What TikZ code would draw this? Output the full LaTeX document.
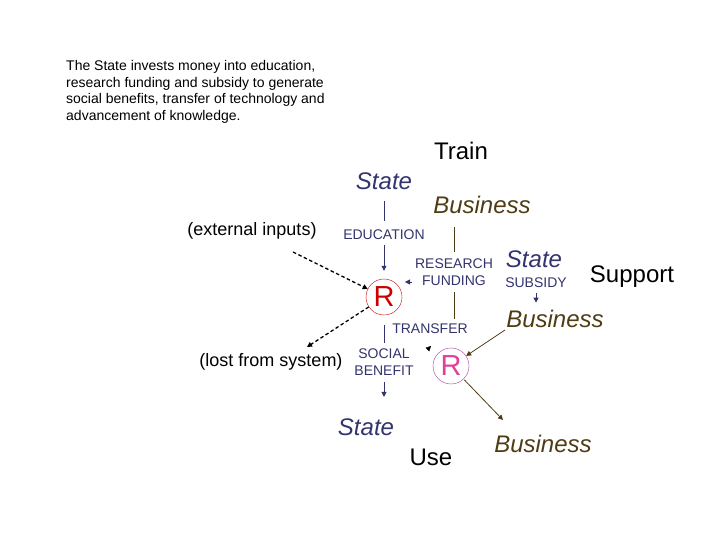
\documentclass[tikz,border=0pt]{standalone}
\usepackage{fontspec}
\setmainfont{Liberation Sans}
\usepackage{xcolor}
\usepackage{tikz}
\usetikzlibrary{arrows.meta}

\definecolor{stateblue}{RGB}{51,51,110}
\definecolor{busbrown}{RGB}{80,60,20}
\definecolor{rred}{RGB}{204,0,0}
\definecolor{rpink}{RGB}{224,64,154}
\definecolor{rpurple}{RGB}{170,60,150}

\tikzset{
    big/.style={font=\fontsize{24}{28}\selectfont},
    statetxt/.style={font=\fontsize{24}{28}\selectfont\itshape, text=stateblue},
    bustxt/.style={font=\fontsize{24}{28}\selectfont\itshape, text=busbrown},
    flowtxt/.style={font=\fontsize{14}{17}\selectfont, text=stateblue, align=center},
    paren/.style={font=\fontsize{18}{21}\selectfont},
    ltip/.style={-{Triangle[length=5pt,width=5pt]}},
    extflow/.style={line width=1.3pt, dash pattern=on 3.5pt off 2.5pt, ltip},
}

\begin{document}
\begin{tikzpicture}[x=1pt, y=-1pt]
    \useasboundingbox (0,0) rectangle (720,540);

    % Intro text
    \node[anchor=north west, align=left, inner sep=0pt,
          font=\fontsize{14}{16.7}\selectfont] (intro) at (66,60)
        {The State invests money into education,\\research funding and subsidy to generate\\social benefits, transfer of technology and\\advancement of knowledge.};

    % Top labels
    \node[big] (train) at (461,151) {Train};
    \node[statetxt] (state1) at (384,181) {State};
    \node[bustxt] (bus1) at (482,205) {Business};
    \node[paren] (extin) at (252,231) {(external inputs)};
    \node[flowtxt] (edu) at (384,235) {EDUCATION};

    % Research side
    \node[flowtxt] (resfund) at (454,272) {RESEARCH\\FUNDING};
    \node[statetxt] (state2) at (534,259) {State};
    \node[flowtxt] (subsidy) at (536,283) {SUBSIDY};
    \node[big] (support) at (632,277) {Support};
    \node[bustxt] (bus2) at (555,319) {Business};

    % Reservoirs
    \node[circle, draw=rred, thin, minimum size=36pt, inner sep=0pt, text=rred,
          font=\fontsize{29}{30}\selectfont] (r1) at (384,297) {R};
    \node[circle, draw=rpurple, thin, minimum size=36pt, inner sep=0pt, text=rpink,
          font=\fontsize{29}{30}\selectfont] (r2) at (451,366) {R};

    % Lower labels
    \node[flowtxt] (transfer) at (430,329) {TRANSFER};
    \node[flowtxt] (social) at (384,362) {SOCIAL\\BENEFIT};
    \node[paren] (lost) at (271,362) {(lost from system)};
    \node[statetxt] (state3) at (366,427) {State};
    \node[big] (use) at (431,457) {Use};
    \node[bustxt] (bus3) at (543,444) {Business};

    \coordinate (fundtip) at (405,282);
    \coordinate (transtip) at (431,346);
    \coordinate (extout) at (293,252);
    \coordinate (lostin) at (307,347);
    \coordinate (bus2out) at (505,330);
    \coordinate (bus3in) at (503,420);

    % Connections
    \draw[stateblue, thick, shorten <=8pt, shorten >=6pt] (state1.south) -- (edu.north);
    \draw[stateblue, thick, ltip, shorten <=2pt, shorten >=8pt] (edu.south) -- (r1.north);
    \draw[busbrown, thick, shorten <=10pt, shorten >=3pt] (bus1.south -| resfund.north) -- (resfund.north);
    \draw[busbrown, thick, shorten <=3pt, shorten >=2pt] (resfund.south) -- (resfund.south |- transfer.north);
    \draw[stateblue, ltip] (resfund.west |- fundtip) -- (fundtip);
    \draw[stateblue, semithick, shorten <=10pt, shorten >=2pt] (r1.south) -- (social.north);
    \draw[stateblue, thick, ltip, shorten <=3pt, shorten >=18pt] (social.south) -- (social.south |- state3.north);
    \draw[stateblue, thick, ltip, shorten <=2pt, shorten >=4pt] (subsidy.south) -- (subsidy.south |- bus2.north);
    \draw[black, ltip] ([xshift=-4pt,yshift=-4pt]transtip) -- (transtip);

    % Flows from business
    \draw[busbrown, thick, ltip] (bus2out) -- (r2);
    \draw[busbrown, thick, ltip, shorten <=1pt] (r2) -- (bus3in);

    % External flows
    \draw[extflow] (extout) -- (r1);
    \draw[extflow] (r1) -- (lostin);

\end{tikzpicture}
\end{document}
